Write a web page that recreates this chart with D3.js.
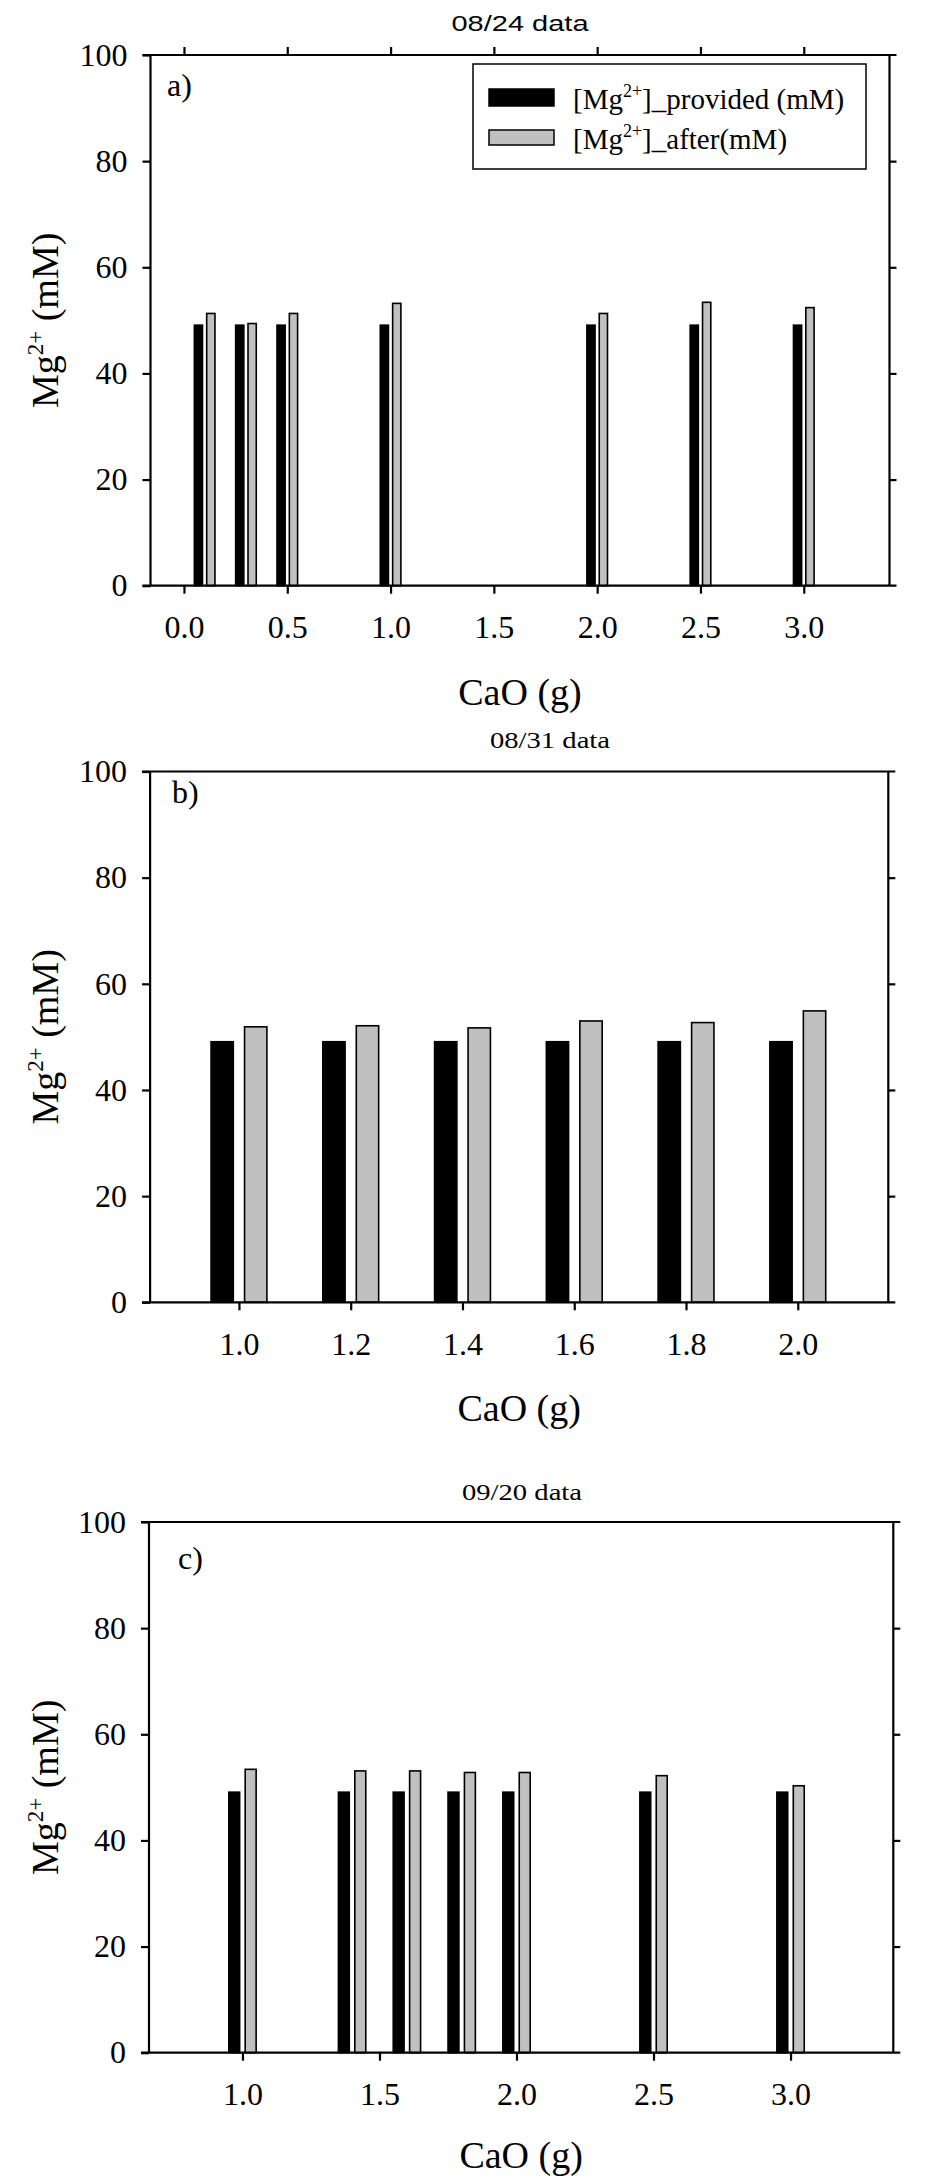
<!DOCTYPE html>
<html>
<head>
<meta charset="utf-8">
<script src="https://cdn.jsdelivr.net/npm/d3@7"></script>
<style>
  html, body { margin: 0; padding: 0; background: #ffffff; }
  svg { display: block; }
</style>
</head>
<body>
<svg id="chart" width="933" height="2184"></svg>
<script>
// ---------------- DATA ----------------
const seriesNames = ["_provided (mM)", "_after(mM)"];

// Panel a) 08/24 data
const caoA = [0.1, 0.3, 0.5, 1.0, 2.0, 2.5, 3.0];
const providedA = [49.1, 49.1, 49.1, 49.1, 49.1, 49.1, 49.1];
const afterA = [51.3, 49.4, 51.3, 53.2, 51.3, 53.4, 52.4];
const ticksA = [0.0, 0.5, 1.0, 1.5, 2.0, 2.5, 3.0];

// Panel b) 08/31 data
const caoB = [1.0, 1.2, 1.4, 1.6, 1.8, 2.0];
const providedB = [49.1, 49.1, 49.1, 49.1, 49.1, 49.1];
const afterB = [51.9, 52.1, 51.7, 53.0, 52.7, 54.9];
const ticksB = [1.0, 1.2, 1.4, 1.6, 1.8, 2.0];

// Panel c) 09/20 data
const caoC = [1.0, 1.4, 1.6, 1.8, 2.0, 2.5, 3.0];
const providedC = [49.1, 49.1, 49.1, 49.1, 49.1, 49.1, 49.1];
const afterC = [53.4, 53.1, 53.1, 52.8, 52.8, 52.2, 50.3];
const ticksC = [1.0, 1.5, 2.0, 2.5, 3.0];

const yTicks = [0, 20, 40, 60, 80, 100];
const titles = ["08/24 data", "08/31 data", "09/20 data"];
const panelLabels = ["a)", "b)", "c)"];

// ---------------- LAYOUT / STYLE ----------------
const SERIF = "'Liberation Serif', 'Times New Roman', serif";
const SANS = "'Liberation Sans', Arial, sans-serif";
const BAR_HALF_GAP = 0.01;   // data units
const BAR_W = 0.04;          // data units
const GRAY = "#c0c0c0";

const panels = [
  { cao: caoA, prov: providedA, after: afterA, ticks: ticksA, xdom: [-0.162, 3.415],
    left: 150.5, right: 889.5, top: 55, bottom: 585.7, topTicks: true,
    title: titles[0], titleFont: SANS, titleSize: 22, titleX: 520, titleY: 31, titleLen: 137,
    label: panelLabels[0], labelX: 167, labelY: 96, legend: true, xTitleY: 705 },
  { cao: caoB, prov: providedB, after: afterB, ticks: ticksB, xdom: [0.841, 2.162],
    left: 150.1, right: 888.3, top: 771.5, bottom: 1302.3, topTicks: false,
    title: titles[1], titleFont: SERIF, titleSize: 23, titleX: 550, titleY: 748, titleLen: 120,
    label: panelLabels[1], labelX: 172, labelY: 803, legend: false, xTitleY: 1421 },
  { cao: caoC, prov: providedC, after: afterC, ticks: ticksC, xdom: [0.659, 3.375],
    left: 149, right: 893.3, top: 1522, bottom: 2052.7, topTicks: false,
    title: titles[2], titleFont: SERIF, titleSize: 23, titleX: 522, titleY: 1500, titleLen: 120,
    label: panelLabels[2], labelX: 178, labelY: 1569, legend: false, xTitleY: 2168 }
];

const svg = d3.select("#chart");

function fmt1(v) { return d3.format(".1f")(v); }

panels.forEach((p) => {
  const g = svg.append("g");
  const x = d3.scaleLinear().domain(p.xdom).range([p.left, p.right]);
  const y = d3.scaleLinear().domain([0, 100]).range([p.bottom, p.top]);

  // Bars: provided (black)
  g.selectAll("rect.prov").data(p.cao.map((c, i) => ({ c, v: p.prov[i] })))
    .enter().append("rect").attr("class", "prov")
    .attr("x", d => x(d.c - BAR_HALF_GAP - BAR_W))
    .attr("width", d => x(d.c - BAR_HALF_GAP) - x(d.c - BAR_HALF_GAP - BAR_W))
    .attr("y", d => y(d.v))
    .attr("height", d => y(0) - y(d.v))
    .attr("fill", "#000").attr("stroke", "#000").attr("stroke-width", 1.5);

  // Bars: after (gray)
  g.selectAll("rect.after").data(p.cao.map((c, i) => ({ c, v: p.after[i] })))
    .enter().append("rect").attr("class", "after")
    .attr("x", d => x(d.c + BAR_HALF_GAP))
    .attr("width", d => x(d.c + BAR_HALF_GAP + BAR_W) - x(d.c + BAR_HALF_GAP))
    .attr("y", d => y(d.v))
    .attr("height", d => y(0) - y(d.v))
    .attr("fill", GRAY).attr("stroke", "#000").attr("stroke-width", 1.6);

  // Axes
  const axB = d3.axisBottom(x).tickValues(p.ticks).tickFormat(fmt1).tickSize(8).tickSizeOuter(0).tickPadding(22);
  const axL = d3.axisLeft(y).tickValues(yTicks).tickFormat(d3.format("d")).tickSize(8).tickSizeOuter(0).tickPadding(15);
  const axR = d3.axisRight(y).tickValues(yTicks.slice(1, 5)).tickFormat("").tickSize(7).tickSizeOuter(0);
  const axT = d3.axisTop(x).tickValues(p.topTicks ? p.ticks : []).tickFormat("").tickSize(8).tickSizeOuter(0);

  const gB = g.append("g").attr("transform", `translate(0,${p.bottom})`).call(axB);
  const gL = g.append("g").attr("transform", `translate(${p.left},0)`).call(axL);
  const gR = g.append("g").attr("transform", `translate(${p.right},0)`).call(axR);
  const gT = g.append("g").attr("transform", `translate(0,${p.top})`).call(axT);

  [gB, gL, gR, gT].forEach(a => {
    a.select(".domain").attr("stroke", "#000").attr("stroke-width", 2.2);
    a.selectAll(".tick line").attr("stroke", "#000").attr("stroke-width", 2.2);
    a.selectAll(".tick text").attr("fill", "#000").style("font-family", SERIF).style("font-size", "32px");
  });
  gB.select(".domain").attr("d", `M${p.left - 8},0H${p.right + 7}`);
  gT.select(".domain").attr("d", `M${p.left - 8},0H${p.right + 7}`);
  gL.select(".domain").attr("d", `M0,${p.top}V${p.bottom}`);
  gR.select(".domain").attr("d", `M0,${p.top}V${p.bottom}`);

  // x-axis title
  g.append("text").attr("x", (p.left + p.right) / 2).attr("y", p.xTitleY)
    .attr("text-anchor", "middle").style("font-family", SERIF).style("font-size", "38px")
    .text("CaO (g)");

  // y-axis title with superscript
  const yt = g.append("text")
    .attr("transform", `translate(58,${(p.top + p.bottom) / 2}) rotate(-90)`)
    .attr("text-anchor", "middle").style("font-family", SERIF).style("font-size", "38px");
  yt.append("tspan").text("Mg");
  yt.append("tspan").attr("dy", -15).style("font-size", "23px").text("2+");
  yt.append("tspan").attr("dy", 15).text(" (mM)");

  // panel title
  g.append("text").attr("x", p.titleX).attr("y", p.titleY)
    .attr("text-anchor", "middle").attr("textLength", p.titleLen).attr("lengthAdjust", "spacingAndGlyphs")
    .style("font-family", p.titleFont).style("font-size", p.titleSize + "px")
    .text(p.title);

  // panel label
  g.append("text").attr("x", p.labelX).attr("y", p.labelY)
    .style("font-family", SERIF).style("font-size", "32px").text(p.label);

  // legend
  if (p.legend) {
    const lg = g.append("g");
    lg.append("rect").attr("x", 473).attr("y", 64).attr("width", 393).attr("height", 105)
      .attr("fill", "#fff").attr("stroke", "#000").attr("stroke-width", 1.5);
    const items = [
      { name: seriesNames[0], fill: "#000", sy: 89, sh: 17, ty: 109 },
      { name: seriesNames[1], fill: GRAY, sy: 130, sh: 15, ty: 149 }
    ];
    items.forEach(it => {
      lg.append("rect").attr("x", 489).attr("y", it.sy).attr("width", 65).attr("height", it.sh)
        .attr("fill", it.fill).attr("stroke", "#000").attr("stroke-width", 1.5);
      const t = lg.append("text").attr("x", 573).attr("y", it.ty)
        .style("font-family", SERIF).style("font-size", "29px");
      t.append("tspan").text("[Mg");
      t.append("tspan").attr("dy", -12).style("font-size", "18px").text("2+");
      t.append("tspan").attr("dy", 12).text("]" + it.name);
    });
  }
});
</script>
</body>
</html>
